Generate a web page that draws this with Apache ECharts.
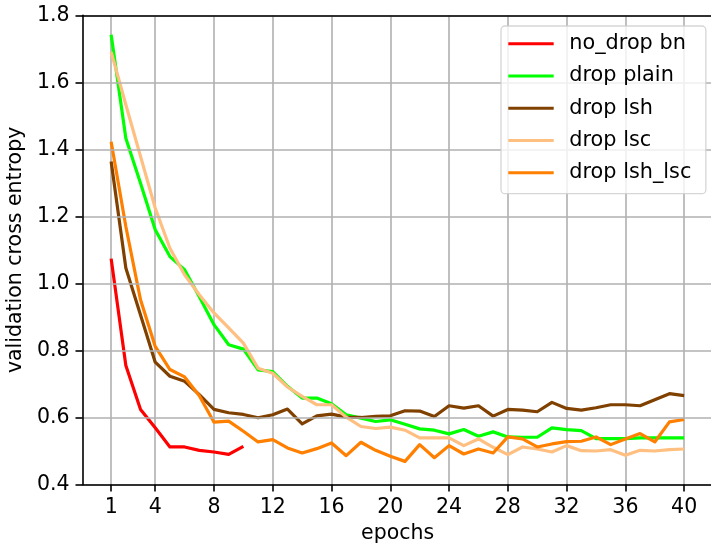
<!DOCTYPE html>
<html>
<head>
<meta charset="utf-8">
<script src="https://cdn.jsdelivr.net/npm/echarts@6/dist/echarts.min.js"></script>
<style>
  html, body { margin: 0; padding: 0; background: #fff; }
  #chart { width: 711px; height: 546px; }
</style>
</head>
<body>
<div id="chart"></div>
<script>
// ---- data ----
const epochs = [1,2,3,4,5,6,7,8,9,10,11,12,13,14,15,16,17,18,19,20,21,22,23,24,25,26,27,28,29,30,31,32,33,34,35,36,37,38,39,40];
const xTickValues = [1,4,8,12,16,20,24,28,32,36,40];
const seriesNames = ['no_drop bn', 'drop plain', 'drop lsh', 'drop lsc', 'drop lsh_lsc'];
const noDropBn = [1.074,0.755,0.624,0.569,0.512,0.512,0.502,0.497,0.490,0.514];
const dropPlain = [1.742,1.433,1.299,1.160,1.080,1.041,0.960,0.877,0.817,0.804,0.742,0.737,0.693,0.658,0.658,0.641,0.608,0.598,0.588,0.593,0.580,0.566,0.562,0.551,0.564,0.544,0.557,0.542,0.541,0.541,0.569,0.564,0.561,0.537,0.537,0.537,0.539,0.539,0.539,0.539];
const dropLsh = [1.364,1.046,0.906,0.765,0.723,0.708,0.668,0.624,0.614,0.609,0.599,0.608,0.625,0.581,0.605,0.610,0.601,0.600,0.603,0.605,0.620,0.619,0.603,0.635,0.628,0.635,0.604,0.624,0.622,0.617,0.645,0.627,0.622,0.629,0.638,0.638,0.635,0.653,0.671,0.665];
const dropLsc = [1.691,1.533,1.379,1.225,1.105,1.026,0.966,0.912,0.867,0.822,0.747,0.732,0.691,0.663,0.638,0.638,0.601,0.573,0.567,0.571,0.562,0.539,0.539,0.539,0.516,0.536,0.511,0.489,0.512,0.506,0.497,0.516,0.501,0.500,0.504,0.487,0.502,0.500,0.504,0.506];
const dropLshLsc = [1.423,1.170,0.951,0.812,0.743,0.721,0.665,0.586,0.589,0.559,0.527,0.534,0.509,0.494,0.507,0.524,0.486,0.526,0.502,0.484,0.469,0.519,0.480,0.516,0.491,0.506,0.494,0.542,0.536,0.512,0.521,0.528,0.529,0.542,0.519,0.536,0.552,0.527,0.587,0.594];
const seriesColors = ['#ff0000', '#00ff00', '#804000', '#ffbf80', '#ff8000'];

// ---- build ----
const FONT = 'DejaVu Sans';
const allValues = [noDropBn, dropPlain, dropLsh, dropLsc, dropLshLsc];
function pairs(vals) { return vals.map((v, i) => [epochs[i], v]); }

const lineSeries = allValues.map((vals, k) => ({
  name: seriesNames[k],
  type: 'line',
  data: pairs(vals),
  showSymbol: false,
  symbol: 'none',
  z: 3,
  lineStyle: { color: seriesColors[k], width: 3.2, join: 'round', cap: 'butt' },
  itemStyle: { color: seriesColors[k] },
  emphasis: { disabled: true },
  animation: false
}));

const gridSeries = {
  name: '__grid',
  type: 'line',
  data: [[1, 1.0]],
  showSymbol: false,
  symbol: 'none',
  lineStyle: { opacity: 0 },
  z: 1,
  silent: true,
  animation: false,
  markLine: {
    silent: true,
    symbol: 'none',
    z: 1,
    animation: false,
    label: { show: false },
    lineStyle: { color: '#b0b0b0', width: 1.6, type: 'solid' },
    emphasis: { disabled: true },
    data: xTickValues.map(v => ({ xAxis: v }))
  }
};

const chart = echarts.init(document.getElementById('chart'), null, { renderer: 'canvas' });
chart.setOption({
  animation: false,
  backgroundColor: '#ffffff',
  grid: { left: 82.5, top: 15.3, width: 630.3, height: 469.2, containLabel: false, outerBoundsMode: 'none' },
  xAxis: [{
    type: 'value',
    min: -0.95,
    max: 41.95,
    z: 5,
    name: 'epochs',
    nameLocation: 'middle',
    nameGap: 35,
    nameTextStyle: { fontFamily: FONT, fontSize: 20.5, color: '#000' },
    axisLine: { show: true, onZero: false, lineStyle: { color: '#000', width: 1.6 } },
    axisTick: { show: true, customValues: xTickValues, length: 7, lineStyle: { color: '#000', width: 1.6 } },
    axisLabel: { show: true, customValues: xTickValues, margin: 13, fontFamily: FONT, fontSize: 20.5, color: '#000' },
    splitLine: { show: false }
  }, {
    type: 'value',
    position: 'top',
    min: -0.95,
    max: 41.95,
    z: 5,
    axisLine: { show: true, onZero: false, lineStyle: { color: '#000', width: 1.6 } },
    axisTick: { show: false },
    axisLabel: { show: false },
    splitLine: { show: false }
  }],
  yAxis: {
    type: 'value',
    min: 0.4,
    max: 1.8,
    interval: 0.2,
    z: 5,
    name: 'validation cross entropy',
    nameLocation: 'middle',
    nameGap: 49,
    nameTextStyle: { fontFamily: FONT, fontSize: 20.5, color: '#000' },
    axisLine: { show: true, onZero: false, lineStyle: { color: '#000', width: 1.6 } },
    axisTick: { show: true, length: 7, lineStyle: { color: '#000', width: 1.6 } },
    axisLabel: { margin: 13, fontFamily: FONT, fontSize: 20.5, color: '#000', formatter: v => v.toFixed(1) },
    splitLine: { show: true, lineStyle: { color: '#b0b0b0', width: 1.6 } }
  },
  legend: {
    data: seriesNames,
    orient: 'vertical',
    left: 501,
    top: 26,
    padding: [7.3, 14.5, 10.4, 7.3],
    itemGap: 11.25,
    itemWidth: 45.4,
    itemHeight: 3.1,
    icon: 'rect',
    backgroundColor: 'rgba(255,255,255,0.8)',
    borderColor: 'rgba(204,204,204,0.8)',
    borderWidth: 1.3,
    borderRadius: 4,
    selectedMode: false,
    textStyle: { fontFamily: FONT, fontSize: 20.8, color: '#000', lineHeight: 20, padding: [0, 0, 0, 10.6] },
    z: 10
  },
  series: [gridSeries].concat(lineSeries)
});
</script>
</body>
</html>
